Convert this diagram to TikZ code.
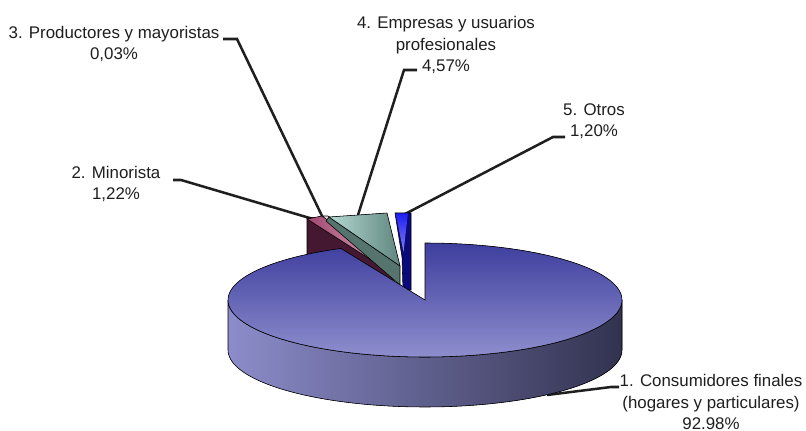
\documentclass[tikz,border=0pt]{standalone}
\usepackage{fontspec}
\setmainfont{Liberation Sans}
\usetikzlibrary{calc}
\usetikzlibrary{positioning}

\definecolor{pietop}{RGB}{62,62,158}
\definecolor{piebot}{RGB}{142,142,206}
\definecolor{sidel}{RGB}{140,140,202}
\definecolor{sider}{RGB}{50,50,80}
\definecolor{minodark}{RGB}{68,24,48}
\definecolor{minotop}{RGB}{160,70,110}
\definecolor{minolight}{RGB}{225,170,195}
\definecolor{prodcol}{RGB}{235,215,225}
\definecolor{emptop}{RGB}{180,216,210}
\definecolor{empdark}{RGB}{96,134,128}
\definecolor{empside}{RGB}{86,116,110}
\definecolor{otrotop}{RGB}{30,30,245}
\definecolor{otrolight}{RGB}{130,130,240}
\definecolor{otrodark}{RGB}{10,10,125}
\definecolor{txt}{RGB}{30,30,30}

\begin{document}
\begin{tikzpicture}[x=0.025cm, y=-0.025cm,
    lbl/.style={align=center, text=txt, inner sep=0pt,
      font=\fontsize{12}{15.3}\selectfont},
    leader/.style={draw=black!88, line width=1.8pt},
    rim/.style={draw=black, line width=0.4pt}]
  \useasboundingbox (0,0) rectangle (806,431);

  % labels
  \node[lbl] (cons) at (711,402) {1. Consumidores finales\\(hogares y particulares)\\92.98\%};
  \node[lbl] (mino) at (116,184) {2. Minorista\\1,22\%};
  \node[lbl] (prod) at (114,44) {3. Productores y mayoristas\\0,03\%};
  \node[lbl] (empr) at (446,45) {4. Empresas y usuarios\\profesionales\\4,57\%};
  \node[lbl] (otro) at (594,121) {5. Otros\\1,20\%};

  % leader lines
  \coordinate (c1a) at (619,387);  \coordinate (c1b) at (611,387);  \coordinate (c1c) at (547,395);
  \coordinate (c2a) at (173,180);  \coordinate (c2b) at (181,180);  \coordinate (c2c) at (313,219);
  \coordinate (c3a) at (223,39);   \coordinate (c3b) at (237,39);   \coordinate (c3c) at (323,218);
  \coordinate (c4a) at (417,70);   \coordinate (c4b) at (404,70);   \coordinate (c4c) at (358,215);
  \coordinate (c5a) at (565,137);  \coordinate (c5b) at (553,137);  \coordinate (c5c) at (405,214);
  \draw[leader] (c1a) -- (c1b) -- (c1c);
  \draw[leader] (c2a) -- (c2b) -- (c2c);
  \draw[leader] (c3a) -- (c3b) -- (c3c);
  \draw[leader] (c4a) -- (c4b) -- (c4c);
  \draw[leader] (c5a) -- (c5b) -- (c5c);

  % exploded slices
  \filldraw[rim, fill=minodark] (307,218) -- (323,217) -- (393,268) -- (393,284) -- (307,258) -- cycle;
  \filldraw[rim, left color=minotop, right color=minolight] (307,219) -- (322,216) -- (392,266) -- (384,268) -- cycle;
  \filldraw[rim, fill=prodcol] (322,216) -- (328,216) -- (395,264) -- (392,266) -- cycle;
  \filldraw[rim, fill=empside] (329,217) -- (400,266) -- (400,285) -- (326,221) -- cycle;
  \filldraw[rim, left color=emptop, right color=empdark] (329,217) -- (387,213) -- (400,266) -- cycle;
  \filldraw[rim, fill=otrodark] (395,213) -- (411,213) -- (411,290) -- (403,290) -- (402,257) -- cycle;
  \fill[top color=otrotop, bottom color=otrolight] (395.5,213.5) -- (408,213.5) -- (403.5,252) -- cycle;

  % main slice
  \filldraw[rim, left color=sidel, right color=sider]
    plot[domain=180:360, samples=80] ({425+197*cos(\x)},{300-57*sin(\x)})
    -- plot[domain=360:180, samples=80] ({425+197*cos(\x)},{350-57*sin(\x)}) -- cycle;
  \filldraw[rim, top color=pietop, bottom color=piebot]
    (425,300) -- plot[domain=90:-244.7, samples=150] ({425+197*cos(\x)},{300-57*sin(\x)}) -- cycle;
\end{tikzpicture}
\end{document}
